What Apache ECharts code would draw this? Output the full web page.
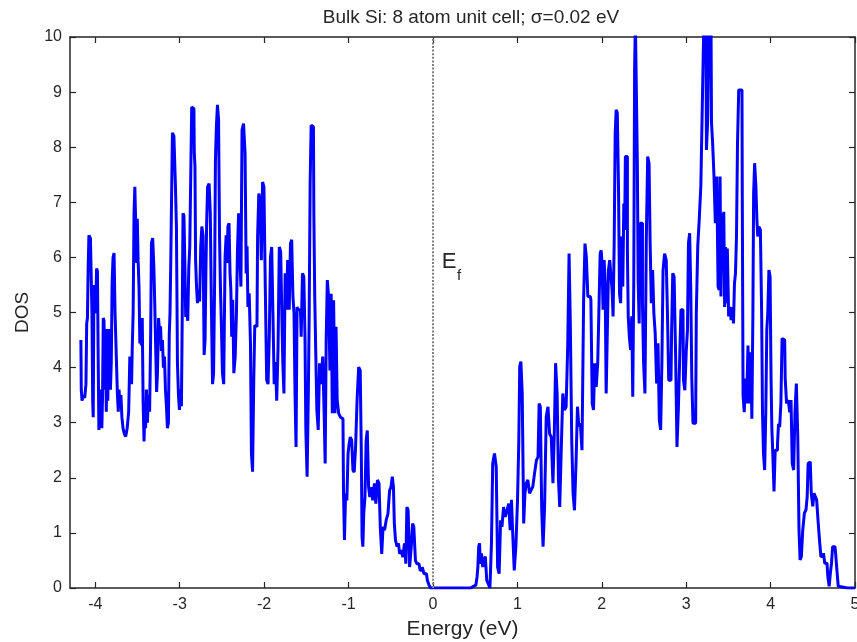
<!DOCTYPE html>
<html>
<head>
<meta charset="utf-8">
<title>Bulk Si DOS</title>
<script src="https://cdn.jsdelivr.net/npm/echarts@6/dist/echarts.min.js"></script>
<style>
  html, body { margin: 0; padding: 0; background: #fff; }
  #chart { width: 857px; height: 642px; }
</style>
</head>
<body>
<div id="chart"></div>
<script>
  // [energy (eV), DOS], split by energy range
  var valenceLow = [
    [-4.171,4.5],[-4.162,3.6],[-4.153,3.4],[-4.135,3.5],[-4.117,3.45],[-4.105,3.7],[-4.099,4.8],[-4.088,4.9],[-4.082,5.8],[-4.070,6.4],
    [-4.046,6.35],[-4.034,5.0],[-4.028,3.4],[-4.022,3.1],[-4.011,5.5],[-4.001,4.99],[-3.989,5.1],[-3.981,5.8],[-3.969,5.75],[-3.961,4.0],
    [-3.954,2.87],[-3.945,3.2],[-3.937,2.95],[-3.928,3.6],[-3.918,2.9],[-3.910,3.5],[-3.902,4.9],[-3.892,4.85],[-3.883,3.6],[-3.874,4.7],
    [-3.866,3.2],[-3.857,4.6],[-3.847,3.4],[-3.839,4.7],[-3.827,4.7],[-3.815,3.6],[-3.807,4.1],[-3.795,5.53],[-3.785,6.0],[-3.771,6.08],
    [-3.762,5.0],[-3.752,4.5],[-3.744,4.47],[-3.732,3.5],[-3.724,3.2],[-3.714,3.6],[-3.703,3.3],[-3.691,3.5],[-3.679,3.1],[-3.665,2.9],
    [-3.649,2.8],[-3.631,2.75],[-3.614,2.9],[-3.596,3.2],[-3.586,4.2],[-3.575,4.2],[-3.566,3.7],[-3.558,4.4],[-3.546,5.0],[-3.537,6.8],
    [-3.527,7.28],[-3.513,7.28],[-3.507,5.9],[-3.499,6.7],[-3.487,5.95],[-3.477,5.44],[-3.468,4.44],[-3.460,4.9],[-3.448,4.4],[-3.440,4.9],
    [-3.428,3.4],[-3.418,2.66],[-3.409,3.2],[-3.400,2.9],[-3.389,3.6],[-3.377,3.0],[-3.365,3.5],[-3.349,3.2],[-3.341,4.5],[-3.329,6.26],
    [-3.312,6.35],[-3.300,5.8],[-3.290,5.1],[-3.278,4.3],[-3.270,3.56],[-3.258,3.9],[-3.243,4.9],[-3.231,4.6],[-3.223,4.75],[-3.211,4.3],
    [-3.199,4.5],[-3.187,4.0],[-3.175,4.2],[-3.163,3.6],[-3.152,3.3],[-3.140,2.9],[-3.128,3.0],[-3.120,4.6],[-3.110,5.0],[-3.102,5.95],
    [-3.092,7.04],[-3.081,8.26],[-3.057,8.2],[-3.045,7.3],[-3.033,6.56],[-3.021,4.08],[-3.009,3.5],[-2.998,3.23],[-2.986,3.6],[-2.974,3.3],
    [-2.966,5.0],[-2.956,6.8],[-2.944,6.75],[-2.935,5.9],[-2.923,4.92],[-2.911,5.1],[-2.899,4.85],[-2.887,5.8],[-2.875,6.19],[-2.864,7.5],
    [-2.852,8.73],[-2.832,8.7],[-2.823,7.9],[-2.816,7.65],[-2.808,5.95],[-2.796,5.5],[-2.784,5.17],[-2.772,5.4],[-2.757,5.2],[-2.745,6.2],
    [-2.731,6.56],[-2.717,6.4],[-2.705,4.23],[-2.695,4.5],[-2.684,5.8]
  ];
  var valenceMid = [
    [-2.678,6.62],[-2.662,7.28],[-2.642,7.34],[-2.634,6.8],[-2.615,5.05],[-2.607,3.7],[-2.591,3.9],[-2.583,5.5],[-2.571,7.77],[-2.559,8.4],
    [-2.547,8.77],[-2.533,8.5],[-2.524,6.38],[-2.512,5.47],[-2.500,4.74],[-2.488,3.9],[-2.470,3.7],[-2.456,6.0],[-2.444,6.4],[-2.435,5.9],
    [-2.423,6.56],[-2.409,6.62],[-2.399,5.71],[-2.390,5.41],[-2.378,4.56],[-2.366,5.23],[-2.352,3.9],[-2.334,4.2],[-2.322,5.0],[-2.310,6.13],
    [-2.295,6.8],[-2.281,6.0],[-2.269,5.47],[-2.255,8.31],[-2.233,8.43],[-2.219,7.89],[-2.207,5.71],[-2.198,6.2],[-2.186,5.1],[-2.168,5.35],
    [-2.156,4.44],[-2.145,2.44],[-2.129,2.11],[-2.117,3.78],[-2.105,4.77],[-2.085,4.74],[-2.070,6.38],[-2.056,7.16],[-2.041,7.04],[-2.026,5.95],
    [-2.011,7.37],[-1.994,7.28],[-1.979,5.47],[-1.961,3.78],[-1.947,3.7],[-1.931,4.56],[-1.919,6.0],[-1.902,6.19],[-1.890,4.99],[-1.872,3.7],
    [-1.860,4.1],[-1.842,3.4],[-1.828,4.38],[-1.813,6.19],[-1.795,6.1],[-1.783,4.86],[-1.774,4.08],[-1.757,3.53],[-1.745,5.71],[-1.730,5.05],
    [-1.712,5.95],[-1.694,5.05],[-1.682,6.25],[-1.665,6.32],[-1.653,5.29],[-1.639,4.99],[-1.629,3.53],[-1.615,2.56],[-1.605,5.1],[-1.588,5.05],
    [-1.570,5.05],[-1.552,4.56],[-1.540,5.71],[-1.520,5.65],[-1.511,4.5],[-1.501,2.87],[-1.481,2.02],[-1.473,3.47],[-1.461,4.86],[-1.449,7.34],
    [-1.437,8.4],[-1.416,8.37],[-1.406,6.8],[-1.395,5.29],[-1.383,4.32],[-1.368,3.23],[-1.351,2.87],[-1.335,4.08],[-1.315,3.7],[-1.297,4.2],
    [-1.283,3.23],[-1.271,2.26],[-1.259,4.5],[-1.244,5.59],[-1.229,5.29]
  ];
  var valenceTop = [
    [-1.212,3.95],[-1.200,5.34],[-1.185,3.17],[-1.169,5.22],[-1.153,3.17],[-1.143,4.74],[-1.126,3.41],[-1.108,3.17],[-1.084,3.1],[-1.066,3.07],
    [-1.054,1.77],[-1.043,0.87],[-1.027,1.72],[-1.013,1.59],[-0.999,2.44],[-0.987,2.62],[-0.972,2.74],[-0.954,2.68],[-0.942,2.14],[-0.924,2.1],
    [-0.909,2.56],[-0.889,3.41],[-0.871,4.01],[-0.853,3.95],[-0.845,2.5],[-0.835,0.93],[-0.826,0.75],[-0.814,1.35],[-0.797,1.65],[-0.786,2.68],
    [-0.770,2.86],[-0.755,1.83],[-0.741,1.65],[-0.723,1.83],[-0.703,1.59],[-0.684,1.9],[-0.669,1.53],[-0.646,1.96],[-0.632,1.9],[-0.616,1.11],
    [-0.598,0.62],[-0.584,1.11],[-0.563,1.05],[-0.545,1.23],[-0.521,1.35],[-0.506,1.77],[-0.489,1.83],[-0.474,2.02],[-0.462,1.83],[-0.453,1.17],
    [-0.435,0.87],[-0.415,0.75],[-0.403,0.81],[-0.385,0.62],[-0.367,0.69],[-0.347,0.56],[-0.328,0.81],[-0.314,0.44],[-0.304,1.47],[-0.284,1.41],
    [-0.269,0.38],[-0.245,0.75],[-0.237,1.17],[-0.217,1.11],[-0.198,0.5],[-0.184,0.44],[-0.166,0.44],[-0.136,0.32],[-0.118,0.38],[-0.095,0.26],
    [-0.077,0.26],[-0.056,0.14],[-0.036,0.05],[-0.015,0],[0.45,0]
  ];
  var conductionLow = [
    [0.459,0.03],[0.498,0.05],[0.518,0.08],[0.527,0.2],[0.537,0.38],[0.547,0.75],[0.557,0.81],[0.565,0.44],[0.584,0.63],[0.596,0.38],
    [0.613,0.5],[0.628,0.57],[0.646,0.14],[0.663,0.08],[0.687,0],[0.699,0.81],[0.717,2.26],[0.741,2.44],[0.758,2.2],[0.774,0.38],
    [0.794,0.26],[0.809,1.23],[0.826,1.11],[0.847,1.47],[0.865,1.29],[0.889,1.41],[0.906,1.53],[0.924,1.05],[0.936,1.6],[0.954,0.99],
    [0.972,0.32],[0.993,0.75],[1.011,1.6],[1.022,2.62],[1.034,4.02],[1.049,4.11],[1.066,3.53],[1.084,1.17],[1.096,1.72],[1.114,1.9],
    [1.134,1.96],[1.155,1.72],[1.173,1.78],[1.193,1.84],[1.214,2.08],[1.238,2.32],[1.252,2.38],[1.264,3.35],[1.280,3.29],[1.297,1.41],
    [1.312,0.75],[1.333,1.47],[1.351,3.11],[1.374,3.29],[1.390,2.8],[1.413,2.74],[1.430,1.9],[1.445,2.8],[1.461,4.08],[1.481,3.53],
    [1.493,1.96],[1.511,1.47],[1.528,2.5],[1.549,3.53],[1.567,3.23],[1.588,3.29],[1.605,4.38],[1.620,6.07],[1.635,4.8],[1.653,2.68],
    [1.667,1.72],[1.686,1.41],[1.706,2.32],[1.718,3.29],[1.738,2.93],[1.754,2.99],[1.777,2.5],[1.793,5.23],[1.809,6.25],[1.825,6.01],
    [1.845,5.29],[1.864,5.29],[1.878,5.23]
  ];
  var conductionMid = [
    [1.896,3.35],[1.908,3.23],[1.925,4.08],[1.943,3.65],[1.961,4.08],[1.975,5.17],[1.987,6.07],[1.999,6.13],[2.008,5.89],[2.022,5.05],
    [2.034,5.95],[2.046,5.53],[2.058,3.53],[2.073,4.62],[2.085,5.77],[2.103,5.95],[2.117,5.95],[2.127,5.41],[2.141,4.93],[2.153,6.26],
    [2.165,8.25],[2.176,8.68],[2.192,8.62],[2.204,7.29],[2.216,5.35],[2.231,5.17],[2.243,6.38],[2.255,5.47],[2.267,6.98],[2.275,6.5],
    [2.284,7.83],[2.299,7.83],[2.308,6.13],[2.319,4.93],[2.334,4.56],[2.349,4.32],[2.361,4.93],[2.373,3.47],[2.385,5.53],[2.393,9.4],
    [2.403,10.3],[2.417,10.3],[2.425,7.77],[2.437,5.59],[2.449,4.8],[2.461,6.62],[2.476,6.62],[2.488,5.17],[2.503,4.08],[2.520,3.53],
    [2.535,6.32],[2.553,7.83],[2.567,7.71],[2.579,6.26],[2.595,5.17],[2.610,5.77],[2.624,4.99],[2.642,4.62],[2.658,3.71],[2.674,4.44],
    [2.690,3.05],[2.705,2.87],[2.719,4.08],[2.733,5.77],[2.755,6.07],[2.772,5.95],[2.784,4.99],[2.802,3.77],[2.820,3.77],[2.835,4.68],
    [2.847,5.71],[2.867,5.65],[2.883,4.2],[2.899,2.56],[2.915,3.23],[2.932,4.2],[2.944,5.05],[2.962,5.05],[2.974,3.77],[2.994,3.59],
    [3.009,4.32],[3.021,4.68],[3.033,6.26],[3.049,6.44],[3.060,5.41],[3.072,3.83],[3.089,2.99],[3.112,2.99],[3.128,4.99],[3.146,6.2],
    [3.163,6.68],[3.184,7.29],[3.202,8.92],[3.217,10.3],[3.234,10.3],[3.246,7.95],[3.264,8.5],[3.276,10.3],[3.294,10.3],[3.306,8.44],
    [3.321,8.07],[3.338,7.47],[3.353,6.62],[3.371,7.47],[3.385,5.47],[3.397,5.41]
  ];
  var conductionTop = [
    [3.406,7.47],[3.418,5.29],[3.430,6.8],[3.440,5.83],[3.451,6.83],[3.460,5.1],[3.472,6.19],[3.480,5.17],[3.495,6.16],[3.511,4.93],
    [3.525,5.1],[3.539,4.86],[3.555,5.1],[3.566,4.8],[3.578,5.53],[3.590,5.71],[3.602,6.38],[3.614,8.07],[3.631,9.04],[3.661,9.04],
    [3.669,6.99],[3.679,3.49],[3.697,3.19],[3.708,3.8],[3.724,3.35],[3.740,4.4],[3.759,3.35],[3.771,4.28],[3.785,3.07],[3.795,4.93],
    [3.803,7.16],[3.819,7.71],[3.833,7.29],[3.842,6.68],[3.854,6.38],[3.868,6.56],[3.890,6.5],[3.898,4.99],[3.910,3.19],[3.922,2.44],
    [3.937,2.14],[3.949,3.19],[3.961,4.68],[3.973,5.0],[3.987,5.77],[4.001,5.65],[4.010,3.8],[4.020,2.9],[4.032,2.44],[4.049,1.75],
    [4.060,2.5],[4.076,2.5],[4.088,2.62],[4.100,2.98],[4.115,2.92],[4.129,3.35],[4.143,4.53],[4.167,4.5],[4.179,3.8],[4.200,3.35],
    [4.218,3.41],[4.236,3.19],[4.248,3.41],[4.265,2.26],[4.281,2.14],[4.297,3.19],[4.313,3.71],[4.331,2.75],[4.342,1.05],[4.357,0.51],
    [4.372,0.57],[4.390,1.05],[4.411,1.36],[4.428,1.42],[4.439,1.66],[4.451,2.26],[4.470,2.29],[4.494,1.72],[4.506,1.48],[4.522,1.72],
    [4.538,1.66],[4.553,1.6],[4.570,1.24],[4.589,0.87],[4.603,0.57],[4.621,0.57],[4.633,0.63],[4.650,0.45],[4.668,0.45],[4.688,0.21],
    [4.700,0.03],[4.716,0.27],[4.727,0.45],[4.743,0.75],[4.763,0.75],[4.778,0.63],[4.793,0.33],[4.810,0.03],[4.822,0],[5.0,0]
  ];

  var xTicks = [-4, -3, -2, -1, 0, 1, 2, 3, 4, 5];
  var fermiEnergy = 0;

  var dos = valenceLow.concat(valenceMid, valenceTop, conductionLow, conductionMid, conductionTop);

  var font = "'Liberation Sans', Arial, sans-serif";
  var ink = "#262626";

  var myChart = echarts.init(document.getElementById("chart"));

  var boxAxisX = {
    type: "value",
    min: -4.3,
    max: 5,
    axisLine: { show: true, onZero: false, lineStyle: { color: ink, width: 1.5 } },
    axisTick: { show: true, inside: true, length: 6, customValues: xTicks, lineStyle: { color: ink, width: 1.2 } },
    splitLine: { show: false }
  };
  var boxAxisY = {
    type: "value",
    min: 0,
    max: 10,
    interval: 1,
    axisLine: { show: true, onZero: false, lineStyle: { color: ink, width: 1.5 } },
    axisTick: { show: true, inside: true, length: 6, lineStyle: { color: ink, width: 1.2 } },
    splitLine: { show: false }
  };

  var option = {
    animation: false,
    backgroundColor: "#fff",
    title: {
      text: "Bulk Si: 8 atom unit cell; σ=0.02 eV",
      left: 466,
      top: 3,
      textAlign: "center",
      textStyle: { fontFamily: font, fontSize: 19, fontWeight: "normal", color: ink }
    },
    grid: { left: 70, right: 2, top: 37, bottom: 54, outerBoundsMode: "none", containLabel: false },
    xAxis: [
      Object.assign({}, boxAxisX, {
        position: "bottom",
        name: "Energy (eV)",
        nameLocation: "middle",
        nameGap: 31,
        nameTextStyle: { fontFamily: font, fontSize: 21, color: ink },
        axisLabel: { customValues: xTicks, margin: 9, fontFamily: font, fontSize: 16, color: ink }
      }),
      Object.assign({}, boxAxisX, {
        position: "top",
        axisLabel: { show: false }
      })
    ],
    yAxis: [
      Object.assign({}, boxAxisY, {
        position: "left",
        name: "DOS",
        nameLocation: "middle",
        nameGap: 38,
        nameTextStyle: { fontFamily: font, fontSize: 19, color: ink },
        axisLabel: { margin: 8, fontFamily: font, fontSize: 16, color: ink }
      }),
      Object.assign({}, boxAxisY, {
        position: "right",
        axisLabel: { show: false }
      })
    ],
    series: [
      {
        type: "line",
        data: dos,
        step: "middle",
        showSymbol: false,
        symbol: "none",
        clip: true,
        lineStyle: { color: "#0000ff", width: 3 },
        markLine: {
          silent: true,
          symbol: ["none", "none"],
          label: { show: false },
          lineStyle: { color: "#808080", width: 2, type: [2, 1.6] },
          data: [{ xAxis: fermiEnergy }]
        },
        markPoint: {
          silent: true,
          symbol: "circle",
          symbolSize: 0,
          data: [
            {
              coord: [0.19, 5.92],
              label: { show: true, position: "inside", formatter: "E", fontFamily: font, fontSize: 22, color: ink }
            },
            {
              coord: [0.31, 5.66],
              label: { show: true, position: "inside", formatter: "f", fontFamily: font, fontSize: 15, color: ink }
            }
          ]
        }
      }
    ]
  };

  option && myChart.setOption(option);
</script>
</body>
</html>
